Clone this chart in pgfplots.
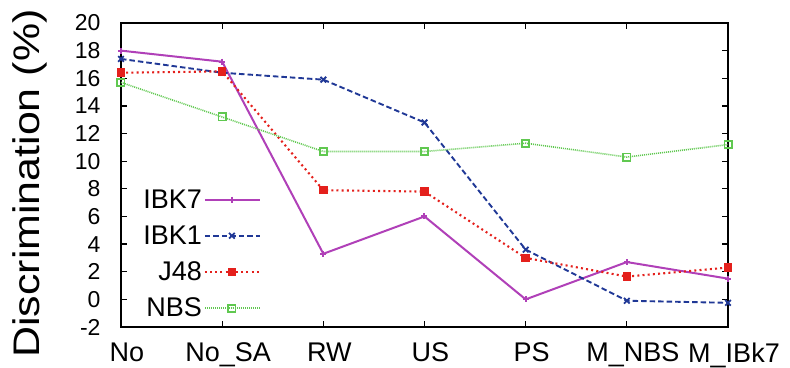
\documentclass[border=0pt]{standalone}
\usepackage{fontspec}
\setmainfont{Liberation Sans}
\usepackage{pgfplots}
\pgfplotsset{compat=1.18}
\definecolor{cA}{RGB}{176,64,184}
\definecolor{cB}{RGB}{32,56,150}
\definecolor{cC}{RGB}{228,32,28}
\definecolor{cD}{RGB}{96,200,80}
\begin{document}
\begin{tikzpicture}
\begin{axis}[
  at={(0,0)}, anchor=south west,
  scale only axis, width=607pt, height=304pt,
  xmin=0, xmax=6, ymin=-2, ymax=20,
  xtick={0,1,2,3,4,5,6},
  xticklabels={No,No\_SA,RW,US,PS,M\_NBS,M\_IBk7},
  ytick={-2,0,2,4,6,8,10,12,14,16,18,20},
  tick align=inside, major tick length=6pt,
  axis line style={line width=1.6pt},
  every tick/.style={black, line width=1.3pt},
  /pgf/number format/assume math mode=true,
  xticklabel style={font=\fontsize{27}{30}\selectfont, yshift=-12pt, xshift=6pt},
  yticklabel style={font=\fontsize{23}{23}\selectfont, xshift=-17pt},
  ylabel={Discrimination (\%)},
  ylabel style={font=\fontsize{37}{40}\selectfont, at={(axis description cs:-0.15,0.472)}, anchor=center, xscale=1.16},
  clip=false,
  legend plot pos=right,
  legend cell align=right,
  legend style={draw=none, fill=none, at={(axis description cs:0.132,0.24)}, anchor=center,
    font=\fontsize{27}{30}\selectfont, row sep=12pt},
  legend image code/.code={\draw[mark repeat=2,mark phase=2] plot coordinates {(0pt,0pt) (27pt,0pt) (55pt,0pt)};},
]
\addplot[cA, line width=2pt, mark=+, mark size=3pt] coordinates {
(0,18.0) (1,17.2) (2,3.3) (3,6.0) (4,0.0) (5,2.7) (6,1.5)};
\addlegendentry{IBK7}
\addplot[cB, line width=1.9pt, dash pattern=on 5.5pt off 3pt, mark=x, mark size=4pt, mark options={solid, line width=1.8pt}] coordinates {
(0,17.4) (1,16.4) (2,15.9) (3,12.8) (4,3.6) (5,-0.1) (6,-0.25)};
\addlegendentry{IBK1}
\addplot[cC, line width=2.1pt, dash pattern=on 2pt off 3.2pt, mark=square*, mark size=3.2pt, mark options={solid}] coordinates {
(0,16.4) (1,16.5) (2,7.9) (3,7.8) (4,3.0) (5,1.65) (6,2.3)};
\addlegendentry{J48}
\addplot[cD, line width=1.6pt, dash pattern=on 1pt off 1pt, mark=square, mark size=3.6pt, mark options={solid, line width=1.8pt}] coordinates {
(0,15.7) (1,13.2) (2,10.7) (3,10.7) (4,11.3) (5,10.3) (6,11.2)};
\addlegendentry{NBS}
\end{axis}
\pgfresetboundingbox
\useasboundingbox (-121pt,-40pt) rectangle (669pt,327pt);
\end{tikzpicture}
\end{document}
